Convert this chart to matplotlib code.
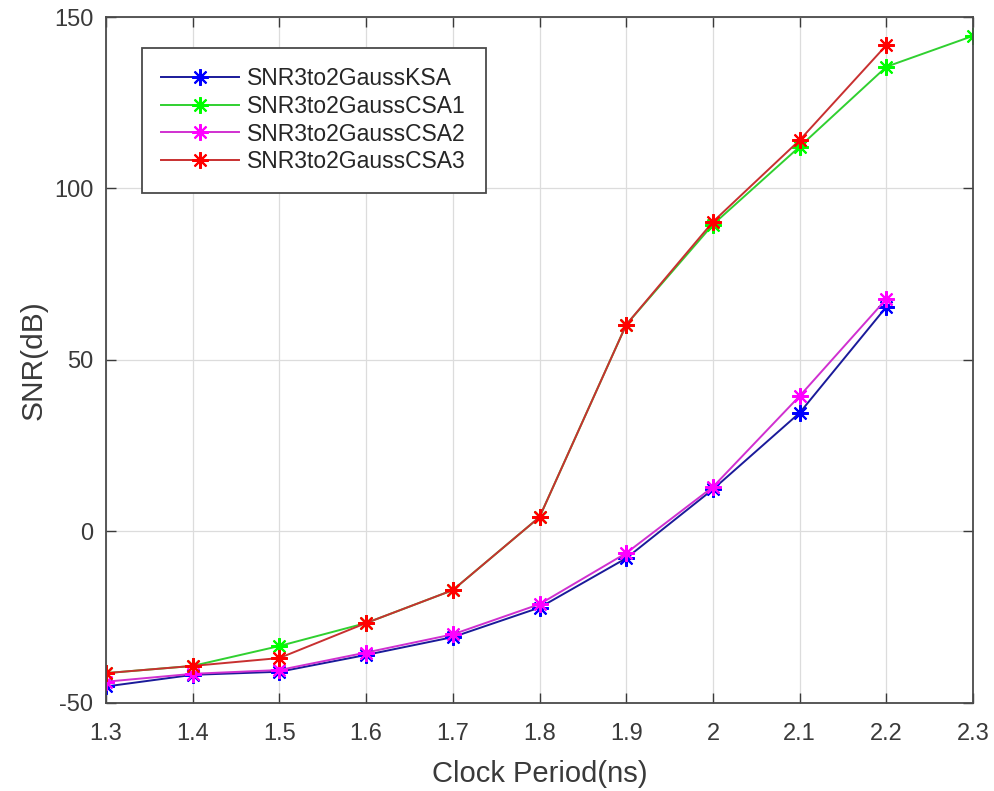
import matplotlib.pyplot as plt
import numpy as np

plt.rcParams['font.family'] = ['Liberation Sans', 'DejaVu Sans']
plt.rcParams['axes.unicode_minus'] = False

# clock period sweep (ns)
clock_period = [1.3, 1.4, 1.5, 1.6, 1.7, 1.8, 1.9, 2.0, 2.1, 2.2, 2.3]

# SNR in dB for each adder; nan where the run has no point
snr_ksa = [-45.2, -41.8, -40.9, -36.0, -30.8, -22.2, -7.8, 12.3, 34.6, 65.5, np.nan]
snr_csa1 = [-41.3, -39.2, -33.4, -26.7, -17.1, 4.2, 60.3, 89.5, 112.2, 135.5, 144.5]
snr_csa2 = [-43.8, -41.5, -40.4, -35.3, -30.0, -21.2, -6.3, 13.0, 39.5, 67.8, np.nan]
snr_csa3 = [-41.3, -39.2, -36.9, -26.7, -17.1, 4.2, 60.3, 90.3, 114.1, 141.8, np.nan]

labels = ['SNR3to2GaussKSA', 'SNR3to2GaussCSA1', 'SNR3to2GaussCSA2', 'SNR3to2GaussCSA3']
line_colors = ['#1a1a9a', '#30d030', '#d030d0', '#c83030']
marker_colors = ['#0000ff', '#00ff00', '#ff00ff', '#ff0000']

fig = plt.figure(figsize=(9.95, 7.91), dpi=100)
ax = fig.add_axes([0.1065, 0.1113, 0.8715, 0.8672])

asterisk = (8, 2, 0)
for snr, lab, lc, mc in zip([snr_ksa, snr_csa1, snr_csa2, snr_csa3], labels, line_colors, marker_colors):
    ax.plot(clock_period, snr, color=lc, linewidth=1.4, marker=asterisk,
            markersize=12, markeredgecolor=mc, markerfacecolor=mc,
            markeredgewidth=1.5, label=lab)

ax.set_xlim(1.3, 2.3)
ax.set_ylim(-50, 150)
ax.set_xticks(clock_period)
ax.set_xticklabels(['1.3', '1.4', '1.5', '1.6', '1.7', '1.8', '1.9', '2', '2.1', '2.2', '2.3'])
ax.set_yticks([-50, 0, 50, 100, 150])
ax.grid(True, color='#dcdcdc', linewidth=0.9)
ax.set_axisbelow(True)

ax.tick_params(direction='in', top=True, right=True, length=7, width=1,
               colors='#3a3a3a', labelsize=17)
ax.tick_params(axis='x', pad=14.5)
ax.tick_params(axis='y', pad=9)
for sp in ax.spines.values():
    sp.set_color('#4a4a4a')
    sp.set_linewidth(1.3)

ax.set_xlabel('Clock Period(ns)', fontsize=21, color='#3a3a3a', labelpad=11)
ax.set_ylabel('SNR(dB)', fontsize=21.5, color='#3a3a3a', labelpad=5)

leg = ax.legend(loc='upper left', bbox_to_anchor=(0.0415, 0.955), borderaxespad=0,
                fontsize=16.5, fancybox=False, framealpha=1, edgecolor='#4a4a4a',
                handlelength=3.4, labelspacing=0.2, borderpad=0.85,
                handletextpad=0.35)
leg.get_frame().set_linewidth(1.3)
for t in leg.get_texts():
    t.set_color('#262626')

fig.savefig('out.png', dpi=100)
